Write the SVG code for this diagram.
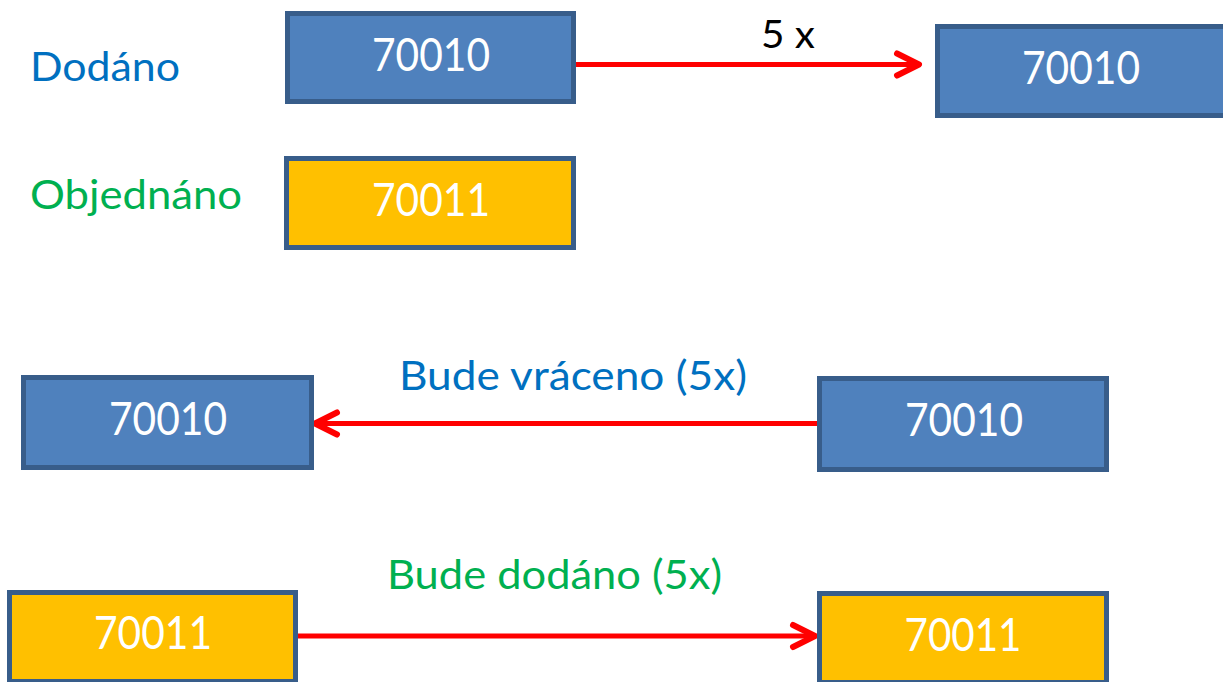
<svg xmlns="http://www.w3.org/2000/svg" width="1223" height="682" viewBox="0 0 1223 682">
<defs>
<style>
.box rect{stroke:#385d8a;stroke-width:5}
.blue rect{fill:#4f81bd}
.orange rect{fill:#ffc000}
.num{font-family:Lato,"Open Sans",sans-serif;font-size:46px;fill:#ffffff;text-anchor:middle}
.lbl{font-family:Lato,"Open Sans",sans-serif;font-size:41px}
.conn{stroke:#ff0000;stroke-width:5;fill:none;stroke-linecap:round}
</style>
<marker id="chev" markerUnits="userSpaceOnUse" markerWidth="40" markerHeight="40" viewBox="-30 -20 40 40" refX="0" refY="0" orient="auto" overflow="visible">
<path d="M-22,-11 L0,0 L-22,11" fill="none" stroke="#ff0000" stroke-width="6" stroke-linecap="round" stroke-linejoin="round"/>
</marker>
</defs>
<rect width="1223" height="682" fill="#ffffff"/>
<g id="labels">
<text class="lbl" x="30" y="81" fill="#0070c0" textLength="150" lengthAdjust="spacingAndGlyphs">Dodáno</text>
<text class="lbl" x="30" y="209" fill="#00b050" textLength="212" lengthAdjust="spacingAndGlyphs">Objednáno</text>
</g>
<g id="connectors">
<path class="conn" d="M576,64.5 L919,64.5" marker-end="url(#chev)"/>
<path class="conn" d="M817,423.5 L315,423.5" marker-end="url(#chev)"/>
<path class="conn" d="M298,636 L815,636" marker-end="url(#chev)"/>
<text class="lbl" x="761" y="48" fill="#000000" textLength="54" lengthAdjust="spacingAndGlyphs" style="font-size:39px">5 x</text>
<text class="lbl" x="399" y="390" fill="#0070c0" textLength="348" lengthAdjust="spacingAndGlyphs">Bude vráceno (5x)</text>
<text class="lbl" x="387" y="589" fill="#00b050" textLength="335" lengthAdjust="spacingAndGlyphs">Bude dodáno (5x)</text>
</g>
<g id="node-dodano-70010" class="box blue">
<rect x="287.5" y="13.5" width="286" height="88"/>
<text class="num" x="431" y="71" textLength="118" lengthAdjust="spacingAndGlyphs">70010</text>
</g>
<g id="node-target-70010" class="box blue">
<rect x="937.5" y="26.5" width="290" height="89"/>
<text class="num" x="1081" y="84" textLength="118" lengthAdjust="spacingAndGlyphs">70010</text>
</g>
<g id="node-objednano-70011" class="box orange">
<rect x="286.5" y="158.5" width="287" height="89"/>
<text class="num" x="431" y="216" textLength="118" lengthAdjust="spacingAndGlyphs">70011</text>
</g>
<g id="node-return-target-70010" class="box blue">
<rect x="23.5" y="377.5" width="288" height="90"/>
<text class="num" x="168" y="435" textLength="118" lengthAdjust="spacingAndGlyphs">70010</text>
</g>
<g id="node-return-source-70010" class="box blue">
<rect x="819.5" y="378.5" width="287" height="91"/>
<text class="num" x="964" y="436" textLength="118" lengthAdjust="spacingAndGlyphs">70010</text>
</g>
<g id="node-deliver-source-70011" class="box orange">
<rect x="9.5" y="592.5" width="286" height="89"/>
<text class="num" x="153" y="649" textLength="118" lengthAdjust="spacingAndGlyphs">70011</text>
</g>
<g id="node-deliver-target-70011" class="box orange">
<rect x="819.5" y="593.5" width="287" height="89"/>
<text class="num" x="963" y="651" textLength="117" lengthAdjust="spacingAndGlyphs">70011</text>
</g>
</svg>
